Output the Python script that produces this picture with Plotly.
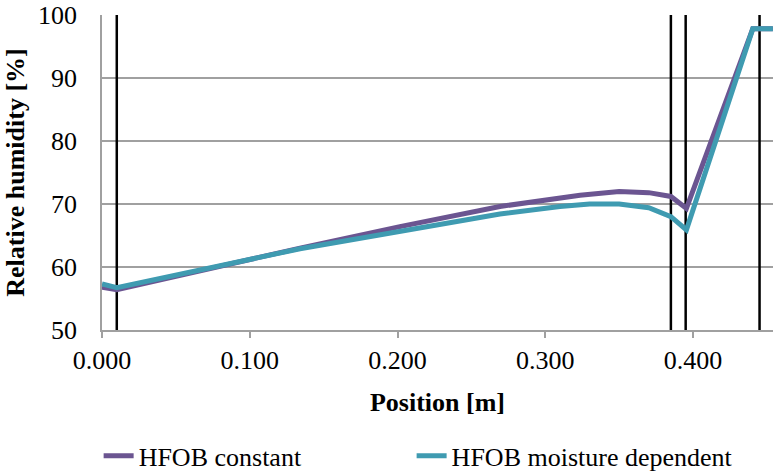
import plotly.graph_objects as go

# Data
pos_constant = [0.000, 0.010, 0.134, 0.2016, 0.2693, 0.3099, 0.3235, 0.350, 0.370, 0.385, 0.3955, 0.4404, 0.454]
rh_constant = [56.8, 56.4, 63.0, 66.4, 69.6, 70.9, 71.4, 72.0, 71.8, 71.2, 69.3, 97.8, 97.8]

pos_moisture = [0.000, 0.010, 0.134, 0.2016, 0.2693, 0.3099, 0.330, 0.350, 0.370, 0.385, 0.3955, 0.4404, 0.454]
rh_moisture = [57.3, 56.7, 62.9, 65.6, 68.4, 69.6, 70.0, 70.0, 69.4, 68.0, 65.9, 97.8, 97.8]

boundaries = [0.010, 0.385, 0.395, 0.445]
boundary_y = [50, 100]

x_ticks = [0.0, 0.1, 0.2, 0.3, 0.4]
y_ticks = [50, 60, 70, 80, 90, 100]

FONT = "Liberation Serif"
fig = go.Figure()

for b in boundaries:
    fig.add_trace(go.Scatter(x=[b, b], y=boundary_y, mode="lines",
                             line=dict(color="black", width=2.5),
                             showlegend=False, hoverinfo="skip"))

fig.add_trace(go.Scatter(x=pos_constant, y=rh_constant, mode="lines",
                         name="HFOB constant", legend="legend",
                         line=dict(color="#6B5591", width=5)))
fig.add_trace(go.Scatter(x=pos_moisture, y=rh_moisture, mode="lines",
                         name="HFOB moisture dependent", legend="legend2",
                         line=dict(color="#3F9BB1", width=5)))

legend_common = dict(orientation="h", xref="container", yref="container",
                      y=0.036, xanchor="left", yanchor="middle",
                      font=dict(family=FONT, size=26, color="black"),
                      bgcolor="rgba(0,0,0,0)")

fig.update_layout(
    width=773, height=473,
    margin=dict(l=102, r=0, t=15, b=143, autoexpand=False),
    plot_bgcolor="white", paper_bgcolor="white",
    font=dict(family=FONT, size=26, color="black"),
    showlegend=True,
    legend=dict(x=0.1276, **legend_common),
    legend2=dict(x=0.5325, **legend_common),
)

fig.update_xaxes(range=[0, 0.4541], tickvals=x_ticks, tickformat=".3f",
                 showgrid=False, showline=True, linecolor="#a0a0a0", linewidth=1.5,
                 ticks="outside", ticklen=6, tickcolor="#a0a0a0", tickwidth=1.5,
                 zeroline=False,
                 title=dict(text="<b>Position [m]</b>", font=dict(family=FONT, size=26, color="black"), standoff=19),
                 tickfont=dict(family=FONT, size=26, color="black"))
fig.update_yaxes(range=[50, 100], tickvals=y_ticks,
                 showgrid=True, gridcolor="#a0a0a0", gridwidth=1.5,
                 showline=True, linecolor="#a0a0a0", linewidth=1.5,
                 ticks="", zeroline=False, ticklabelstandoff=18,
                 title=dict(text="<b>Relative humidity [%]</b>", font=dict(family=FONT, size=26, color="black"), standoff=6),
                 tickfont=dict(family=FONT, size=26, color="black"))

fig.write_html("out.html")
